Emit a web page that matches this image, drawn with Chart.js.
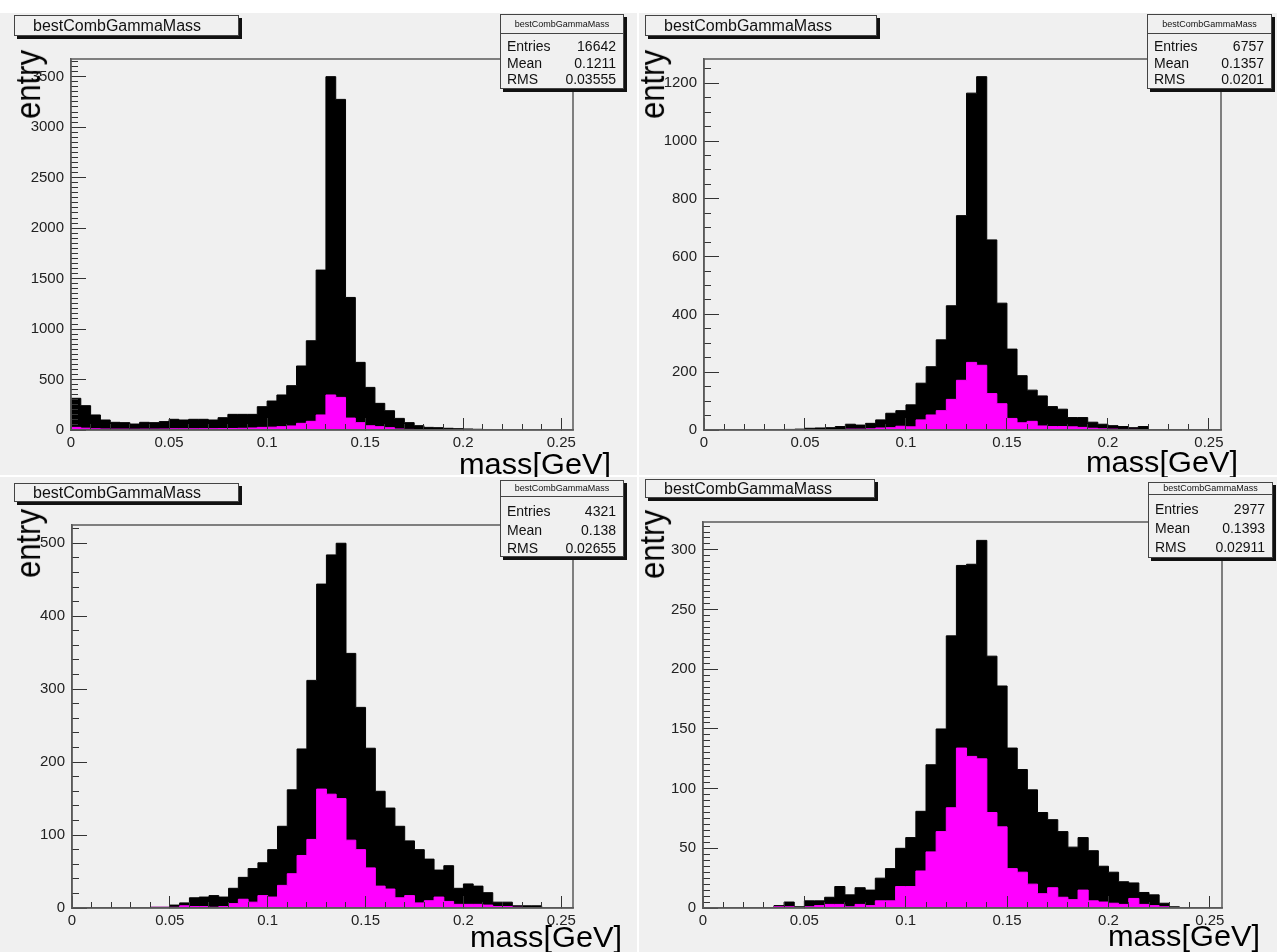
<!DOCTYPE html>
<html>
<head>
<meta charset="utf-8">
<title>bestCombGammaMass</title>
<script src="https://cdn.jsdelivr.net/npm/chart.js@4.4.1/dist/chart.umd.min.js"></script>
<style>
  html, body { margin: 0; padding: 0; background: #ffffff; }
  #page { position: relative; width: 1277px; height: 952px; overflow: hidden; background: #ffffff;
          font-family: 'Liberation Sans', Arial, sans-serif; color: #111; }
  .pad { position: absolute; background: #f0f0f0; }
  canvas.hist { position: absolute; }
  .title { position: absolute; box-sizing: border-box; border: 1px solid #444; background: #f0f0f0;
           box-shadow: 3px 3px 0 #111; font-size: 16px; padding-left: 18px; white-space: nowrap; }
  .stats { position: absolute; box-sizing: border-box; border: 1px solid #444; background: #f0f0f0;
           box-shadow: 3px 3px 0 #111; }
  .stats .head { font-size: 9px; text-align: center; border-bottom: 1px solid #444; box-sizing: border-box; }
  .stats .row { display: flex; justify-content: space-between; font-size: 14px; padding: 0 7px 0 6px; }
  .ylab { position: absolute; font-size: 31px; line-height: 31px; writing-mode: vertical-rl;
          transform: scaleX(1.12) rotate(180deg); white-space: nowrap; color: #000; }
  .xlab { position: absolute; font-size: 29px; line-height: 29px; transform-origin: left top;
          transform: scaleX(1.06); white-space: nowrap; color: #000; }
</style>
</head>
<body>
<div id="page"></div>
<script>
// Histogram binning shared by all four pads
const BIN_WIDTH = 0.005;
const X_MAX = 0.256;
const X_MAJOR = 0.05;
const X_MINOR = 0.01;

// Pad 1: all candidates / selected candidates per 5 MeV bin
const pad1All = [314, 241, 149, 99, 76, 73, 59, 76, 73, 83, 106, 99, 106, 106, 99, 122, 155, 155, 155, 231,
                 287, 347, 439, 634, 884, 1584, 3500, 3275, 1313, 670, 422, 264, 191, 115, 73, 43, 26, 23, 17, 13,
                 10, 7, 5, 3, 2, 1, 1, 0, 0, 0, 0];
const pad1Sel = [26, 18, 12, 10, 9, 9, 8, 9, 9, 10, 12, 12, 12, 13, 13, 14, 15, 17, 20, 26,
                 28, 33, 40, 66, 86, 149, 347, 323, 118, 73, 42, 33, 23, 10, 6, 4, 3, 2, 2, 1,
                 1, 0, 0, 0, 0, 0, 0, 0, 0, 0, 0];
const pad1Stats = ['16642', '0.1211', '0.03555'];

// Pad 2
const pad2All = [0, 0, 0, 0, 0, 0, 0, 0, 2, 3, 6, 7, 8, 12, 20, 17, 23, 35, 58, 67,
                 87, 162, 219, 312, 430, 742, 1166, 1223, 658, 439, 280, 188, 138, 118, 81, 72, 43, 43, 27, 20,
                 15, 12, 8, 12, 0, 0, 0, 0, 0, 0, 0];
const pad2Sel = [0, 0, 0, 0, 0, 0, 0, 0, 0, 0, 0, 0, 0, 1, 3, 3, 4, 7, 8, 13,
                 11, 35, 52, 67, 106, 172, 234, 224, 126, 91, 40, 25, 30, 14, 12, 12, 11, 9, 6, 4,
                 3, 2, 2, 1, 0, 0, 0, 0, 0, 0, 0];
const pad2Stats = ['6757', '0.1357', '0.0201'];

// Pad 3
const pad3All = [0, 0, 0, 0, 0, 0, 0, 0, 1, 1, 4, 7, 14, 15, 17, 15, 27, 42, 54, 62,
                 80, 112, 162, 218, 312, 444, 484, 500, 349, 275, 219, 160, 137, 112, 92, 80, 67, 52, 58, 27,
                 33, 30, 21, 8, 8, 3, 3, 3, 0, 0, 0];
const pad3Sel = [0, 0, 0, 0, 0, 0, 0, 0, 1, 1, 1, 3, 2, 2, 1, 2, 6, 12, 8, 17,
                 15, 31, 47, 72, 94, 163, 156, 150, 93, 80, 55, 30, 26, 14, 17, 7, 10, 15, 9, 5,
                 5, 5, 4, 2, 2, 1, 0, 0, 0, 0, 0];
const pad3Stats = ['4321', '0.138', '0.02655'];

// Pad 4
const pad4All = [0, 0, 0, 0, 0, 0, 0, 2, 5, 1, 6, 6, 9, 18, 11, 17, 15, 25, 33, 50,
                 59, 81, 120, 150, 228, 287, 288, 308, 211, 186, 134, 116, 99, 80, 74, 64, 51, 59, 48, 35,
                 30, 22, 21, 13, 11, 4, 1, 0, 0, 0, 0];
const pad4Sel = [0, 0, 0, 0, 0, 0, 0, 1, 1, 0, 1, 2, 3, 3, 1, 3, 2, 6, 6, 18,
                 18, 31, 47, 64, 84, 134, 127, 125, 80, 68, 33, 30, 20, 12, 17, 9, 7, 15, 6, 5,
                 4, 3, 8, 3, 2, 1, 0, 0, 0, 0, 0];
const pad4Stats = ['2977', '0.1393', '0.02911'];

const HIST_NAME = 'bestCombGammaMass';
const STAT_LABELS = ['Entries', 'Mean', 'RMS'];
const X_TITLE = 'mass[GeV]';
const Y_TITLE = 'entry';

const pads = [
  { box: {x: 0, y: 13, w: 637, h: 462}, area: {l: 71, t: 59, r: 573, b: 430},
    all: pad1All, sel: pad1Sel, stats: pad1Stats, yMajor: 500, yMinor: 50,
    title: {x: 14, y: 15, w: 225, h: 21},
    statBox: {x: 500, y: 14, w: 124, h: 75, head: 19, rowTop: 4, rowH: 16.7},
    ylab: {x: 12.5, y: 50}, xlab: {x: 459, base: 474} },
  { box: {x: 639, y: 13, w: 638, h: 462}, area: {l: 704, t: 59, r: 1221, b: 430},
    all: pad2All, sel: pad2Sel, stats: pad2Stats, yMajor: 200, yMinor: 50,
    title: {x: 645, y: 15, w: 232, h: 21},
    statBox: {x: 1147, y: 14, w: 125, h: 75, head: 19, rowTop: 4, rowH: 16.7},
    ylab: {x: 636.5, y: 50}, xlab: {x: 1086, base: 472} },
  { box: {x: 0, y: 477, w: 637, h: 475}, area: {l: 72, t: 525, r: 573, b: 908},
    all: pad3All, sel: pad3Sel, stats: pad3Stats, yMajor: 100, yMinor: 20,
    title: {x: 14, y: 483, w: 225, h: 19},
    statBox: {x: 500, y: 480, w: 124, h: 77, head: 16, rowTop: 5, rowH: 18.5},
    ylab: {x: 12.5, y: 509}, xlab: {x: 470, base: 947} },
  { box: {x: 639, y: 477, w: 638, h: 475}, area: {l: 703, t: 522, r: 1222, b: 908},
    all: pad4All, sel: pad4Sel, stats: pad4Stats, yMajor: 50, yMinor: 5,
    title: {x: 645, y: 479, w: 230, h: 19},
    statBox: {x: 1148, y: 482, w: 125, h: 76, head: 12, rowTop: 5, rowH: 19},
    ylab: {x: 637, y: 510}, xlab: {x: 1108, base: 946} }
];

const FONT_FAMILY = "'Liberation Sans', Arial, sans-serif";
const FRAME_COLOR = '#5a5a5a';
const TICK_COLOR = '#333333';
const LABEL_COLOR = '#222222';
Chart.defaults.font.family = FONT_FAMILY;

const page = document.getElementById('page');

function place(tag, cls, css, text) {
  const e = document.createElement(tag);
  if (cls) e.className = cls;
  Object.assign(e.style, css);
  if (text !== undefined) e.textContent = text;
  return e;
}

// Stepped outline: one point per bin low edge, plus the upper edge of the last bin
function steps(counts) {
  const pts = counts.map((v, i) => ({ x: i * BIN_WIDTH, y: v }));
  pts.push({ x: counts.length * BIN_WIDTH, y: counts[counts.length - 1] });
  return pts;
}

// Tick positions at whole multiples of the step, from 0 up to the axis maximum
function tickValues(step, max) {
  const out = [];
  for (let i = 0; i * step <= max + 1e-9; i++) {
    out.push({ value: Math.round(i * step * 1e6) / 1e6 });
  }
  return out;
}

function zeroPadding(s) {
  s.paddingLeft = 0; s.paddingRight = 0; s.paddingTop = 0; s.paddingBottom = 0;
}

const framePlugin = {
  id: 'frame',
  afterDraw(chart) {
    const { ctx, chartArea: a } = chart;
    ctx.save();
    ctx.strokeStyle = FRAME_COLOR;
    ctx.lineWidth = 1.5;
    ctx.strokeRect(a.left, a.top, a.right - a.left, a.bottom - a.top);
    ctx.restore();
  }
};

function fmtX(v) { return String(parseFloat(Number(v).toFixed(3))); }

pads.forEach((p) => {
  const { box, area } = p;
  const padEl = place('div', 'pad', { left: box.x + 'px', top: box.y + 'px', width: box.w + 'px', height: box.h + 'px' });
  page.appendChild(padEl);

  const canvas = document.createElement('canvas');
  canvas.className = 'hist';
  canvas.width = box.w; canvas.height = box.h;
  Object.assign(canvas.style, { left: box.x + 'px', top: box.y + 'px', width: box.w + 'px', height: box.h + 'px' });
  page.appendChild(canvas);

  const yMax = Math.max(...p.all) * 1.05;
  const yWidth = area.l - box.x;
  const xHeight = box.y + box.h - area.b;

  const tickFont = { family: FONT_FAMILY, size: 15 };

  new Chart(canvas, {
    type: 'line',
    data: {
      datasets: [
        { label: 'selected', data: steps(p.sel), xAxisID: 'x', yAxisID: 'y', order: 1,
          stepped: 'before', fill: 'origin', backgroundColor: '#ff00ff', borderColor: '#ff00ff',
          borderWidth: 1, pointRadius: 0, tension: 0 },
        { label: 'all', data: steps(p.all), xAxisID: 'x', yAxisID: 'y', order: 2,
          stepped: 'before', fill: 'origin', backgroundColor: '#000000', borderColor: '#000000',
          borderWidth: 1, pointRadius: 0, tension: 0 }
      ]
    },
    options: {
      responsive: false,
      devicePixelRatio: 1,
      animation: false,
      events: [],
      layout: { padding: { left: 0, top: area.t - box.y, right: box.x + box.w - area.r, bottom: 0 } },
      plugins: { legend: { display: false }, tooltip: { enabled: false } },
      scales: {
        x: {
          type: 'linear', position: 'bottom', weight: 1, min: 0, max: X_MAX, offset: false,
          afterBuildTicks: (s) => { s.ticks = tickValues(X_MAJOR, X_MAX); },
          ticks: { autoSkip: false, maxRotation: 0, minRotation: 0,
                   padding: 16, font: tickFont, color: LABEL_COLOR, callback: (v) => fmtX(v) },
          grid: { drawOnChartArea: false, drawTicks: true, tickLength: -12, tickColor: TICK_COLOR, tickWidth: 1, z: 1 },
          border: { display: true, color: FRAME_COLOR, width: 1.5, z: 1 },
          afterFit: (s) => { s.height = xHeight; zeroPadding(s); }
        },
        xMinor: {
          type: 'linear', position: 'bottom', weight: 0, min: 0, max: X_MAX, offset: false,
          afterBuildTicks: (s) => { s.ticks = tickValues(X_MINOR, X_MAX); },
          ticks: { display: false, autoSkip: false },
          grid: { drawOnChartArea: false, drawTicks: true, tickLength: -6, tickColor: TICK_COLOR, tickWidth: 1, z: 1 },
          border: { display: false },
          afterFit: (s) => { s.height = 0; zeroPadding(s); }
        },
        y: {
          type: 'linear', position: 'left', weight: 1, min: 0, max: yMax,
          afterBuildTicks: (s) => { s.ticks = tickValues(p.yMajor, yMax); },
          ticks: { autoSkip: false, padding: 22,
                   font: tickFont, color: LABEL_COLOR, callback: (v) => String(v) },
          grid: { drawOnChartArea: false, drawTicks: true, tickLength: -15, tickColor: TICK_COLOR, tickWidth: 1, z: 1 },
          border: { display: true, color: FRAME_COLOR, width: 1.5, z: 1 },
          afterFit: (s) => { s.width = yWidth; zeroPadding(s); }
        },
        yMinor: {
          type: 'linear', position: 'left', weight: 0, min: 0, max: yMax,
          afterBuildTicks: (s) => { s.ticks = tickValues(p.yMinor, yMax); },
          ticks: { display: false, autoSkip: false },
          grid: { drawOnChartArea: false, drawTicks: true, tickLength: -7, tickColor: TICK_COLOR, tickWidth: 1, z: 1 },
          border: { display: false },
          afterFit: (s) => { s.width = 0; zeroPadding(s); }
        }
      }
    },
    plugins: [framePlugin]
  });

  // histogram title box
  const t = p.title;
  page.appendChild(place('div', 'title', {
    left: t.x + 'px', top: t.y + 'px', width: t.w + 'px', height: t.h + 'px', lineHeight: (t.h - 2) + 'px'
  }, HIST_NAME));

  // statistics box
  const sb = p.statBox;
  const stats = place('div', 'stats', { left: sb.x + 'px', top: sb.y + 'px', width: sb.w + 'px', height: sb.h + 'px' });
  stats.appendChild(place('div', 'head', { height: sb.head + 'px', lineHeight: (sb.head - 1) + 'px' }, HIST_NAME));
  const rows = place('div', '', { paddingTop: sb.rowTop + 'px' });
  STAT_LABELS.forEach((lab, i) => {
    const r = place('div', 'row', { height: sb.rowH + 'px', lineHeight: sb.rowH + 'px' });
    r.appendChild(place('span', '', {}, lab));
    r.appendChild(place('span', '', {}, p.stats[i]));
    rows.appendChild(r);
  });
  stats.appendChild(rows);
  page.appendChild(stats);

  // axis titles
  page.appendChild(place('div', 'ylab', { left: p.ylab.x + 'px', top: p.ylab.y + 'px' }, Y_TITLE));
  page.appendChild(place('div', 'xlab', { left: p.xlab.x + 'px', top: (p.xlab.base - 24.5) + 'px' }, X_TITLE));
});
</script>
</body>
</html>
